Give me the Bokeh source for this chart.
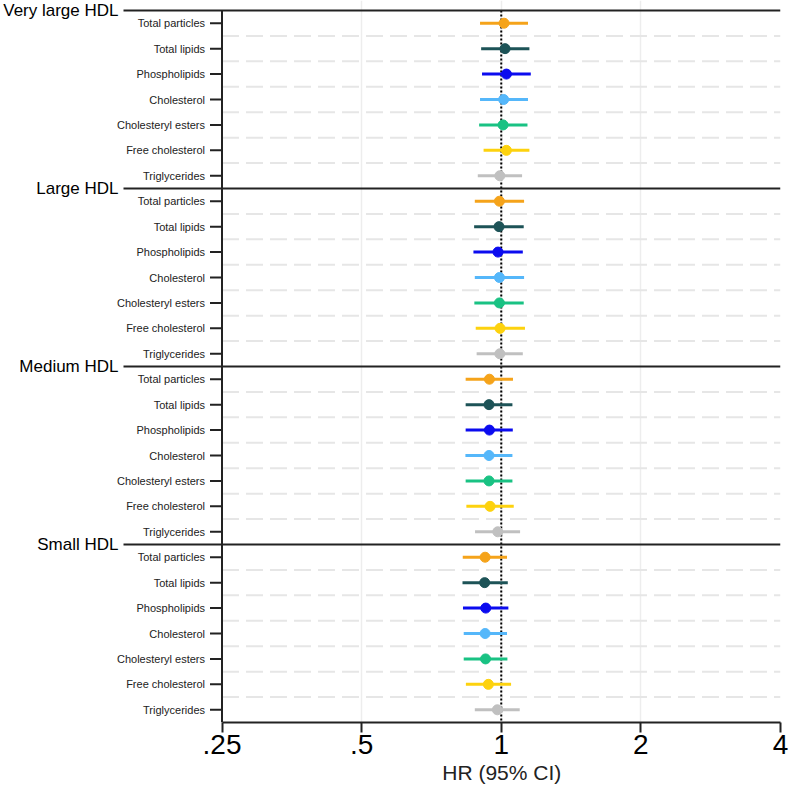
from bokeh.plotting import figure
from bokeh.models import Range1d, FixedTicker, ColumnDataSource, Title
from bokeh.core.properties import value
from bokeh.embed import file_html
from bokeh.resources import INLINE

# ---------------- data ----------------
groups = ["Very large HDL", "Large HDL", "Medium HDL", "Small HDL"]
measures = ["Total particles", "Total lipids", "Phospholipids", "Cholesterol",
            "Cholesteryl esters", "Free cholesterol", "Triglycerides"]
colors = ["#f5a31a", "#1d5357", "#0b0bef", "#55b7fa", "#19c283", "#fdd20e", "#c0c0c0"]

vlarge_hr = [1.014, 1.019, 1.026, 1.012, 1.009, 1.026, 0.993]
vlarge_lo = [0.900, 0.905, 0.909, 0.900, 0.896, 0.916, 0.890]
vlarge_hi = [1.142, 1.150, 1.158, 1.142, 1.139, 1.150, 1.109]

large_hr = [0.991, 0.989, 0.984, 0.991, 0.991, 0.994, 0.993]
large_lo = [0.877, 0.874, 0.871, 0.877, 0.875, 0.881, 0.885]
large_hi = [1.120, 1.118, 1.113, 1.120, 1.118, 1.125, 1.113]

medium_hr = [0.943, 0.941, 0.943, 0.941, 0.941, 0.946, 0.983]
medium_lo = [0.838, 0.838, 0.838, 0.837, 0.838, 0.841, 0.878]
medium_hi = [1.060, 1.057, 1.059, 1.057, 1.057, 1.064, 1.098]

small_hr = [0.923, 0.921, 0.926, 0.923, 0.925, 0.938, 0.981]
small_lo = [0.826, 0.825, 0.827, 0.830, 0.830, 0.839, 0.877]
small_hi = [1.029, 1.033, 1.036, 1.029, 1.031, 1.050, 1.096]

x_ticks = [0.25, 0.5, 1, 2, 4]
x_tick_labels = [".25", ".5", "1", "2", "4"]
x_label = "HR (95% CI)"

# ---------------- layout constants (pixels) ----------------
FRAME_W = 780
FRAME_H = 722
TOP_PAD_PX = 10       # room above the first group rule
LEFT_PX = 221.5       # where the HR axis begins inside the frame
PLOT_PX = 558.5       # width of the .25 .. 4 span
HEADER_LINE_PX = 123  # where the group header rules begin
TICK_PX = 12
XLABEL_HALF_W = 59    # half width of the x axis title text
FONT = "Liberation Sans"
DARK = "#222222"

xmin, xmax = x_ticks[0], x_ticks[-1]
ppo = PLOT_PX / 4.0   # pixels per doubling


def px_to_x(px):
    """frame pixel (from left) -> data value on the log axis"""
    return xmin * 2 ** ((px - LEFT_PX) / ppo)


# ---------------- build tables ----------------
hr_all = vlarge_hr + large_hr + medium_hr + small_hr
lo_all = vlarge_lo + large_lo + medium_lo + small_lo
hi_all = vlarge_hi + large_hi + medium_hi + small_hi
n_m = len(measures)
n_rows = len(groups) * n_m
rows = list(range(n_rows))
labels = measures * len(groups)
cols = colors * len(groups)
src = ColumnDataSource(dict(y=rows, hr=hr_all, lo=lo_all, hi=hi_all, c=cols))

row_px = (FRAME_H - TOP_PAD_PX) / n_rows
y_top = -0.5 - TOP_PAD_PX / row_px
y_bot = n_rows - 0.5

p = figure(frame_width=FRAME_W, frame_height=FRAME_H, output_backend="svg",
           toolbar_location=None,
           x_axis_type="log", x_range=Range1d(px_to_x(0), xmax),
           y_range=Range1d(y_bot, y_top), y_axis_location=None,
           min_border_left=0, min_border_right=9, min_border_top=0,
           min_border_bottom=0)
p.outline_line_color = None
p.background_fill_color = "white"
p.border_fill_color = "white"

# vertical grid (at HR ticks)
p.xgrid.ticker = FixedTicker(ticks=x_ticks[1:])
p.xgrid.grid_line_color = "#ededed"
p.xgrid.grid_line_width = 1.5
p.ygrid.grid_line_color = None

# dashed separators between rows within each group
within = [g * n_m + k + 0.5 for g in range(len(groups)) for k in range(n_m - 1)]
p.segment(x0=xmin, x1=xmax, y0=within, y1=within, line_color="#e6e6e6",
          line_width=2, line_dash="17 7")

# x axis
xa = p.xaxis[0]
xa.bounds = (xmin, xmax)
xa.ticker = FixedTicker(ticks=x_ticks)
xa.major_label_overrides = {t: s for t, s in zip(x_ticks, x_tick_labels)}
xa.minor_tick_line_color = None
xa.axis_line_width = 2
xa.axis_line_color = DARK
xa.major_tick_line_width = 2
xa.major_tick_line_color = DARK
xa.major_tick_out = 10
xa.major_tick_in = 0
xa.major_label_text_font = FONT
xa.major_label_text_font_size = "28px"
xa.major_label_text_color = "black"
xa.major_label_standoff = 2

# x axis title, centred under the .25 .. 4 span
p.add_layout(Title(text=x_label, align="left",
                   offset=LEFT_PX + PLOT_PX / 2 - XLABEL_HALF_W,
                   text_font=FONT, text_font_size="21px", text_font_style="normal",
                   text_color=DARK, standoff=4), "below")

# y axis drawn at HR = .25
p.segment(x0=xmin, x1=xmin, y0=-0.5, y1=y_bot, line_color=DARK, line_width=2)
p.segment(x0=px_to_x(LEFT_PX - TICK_PX), x1=xmin, y0=rows, y1=rows,
          line_color=DARK, line_width=2)
p.text(x=xmin, y=rows, text=labels, x_offset=-(TICK_PX + 5), text_align="right",
       text_baseline="middle", text_font=value(FONT), text_font_size="11px",
       text_color=DARK)

# reference line at HR = 1
p.segment(x0=1, x1=1, y0=-0.5, y1=y_bot, line_color="black", line_width=2,
          line_dash="2 2")

# group headers
hy = [g * n_m - 0.5 for g in range(len(groups))]
p.segment(x0=px_to_x(HEADER_LINE_PX), x1=xmax, y0=hy, y1=hy, line_color=DARK,
          line_width=2)
p.text(x=px_to_x(HEADER_LINE_PX), y=hy, text=groups, x_offset=-5, text_align="right",
       text_baseline="middle", text_font=value(FONT), text_font_size="17px",
       text_color="black")

# CIs and points
p.segment(x0="lo", x1="hi", y0="y", y1="y", line_color="c", line_width=3, source=src)
p.scatter(x="hr", y="y", size=10, fill_color="c", line_color="c", source=src)

open("out.html", "w").write(file_html(p, INLINE))
